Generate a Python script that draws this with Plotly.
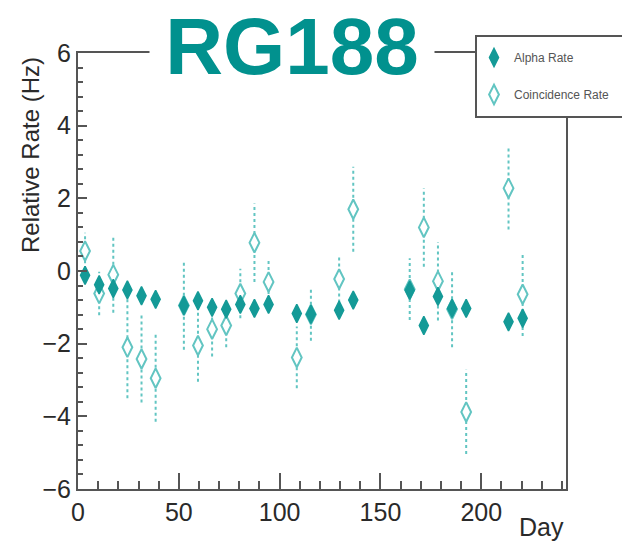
import plotly.graph_objects as go

# ---- data ----
days = [3.5, 10.5, 17.5, 24.5, 31.5, 38.5, 52.5, 59.5, 66.5, 73.5, 80.5, 87.5, 94.5,
        108.5, 115.5, 129.5, 136.5, 164.5, 171.5, 178.5, 185.5, 192.5, 213.5, 220.5]
alpha_rate = [-0.12, -0.38, -0.48, -0.52, -0.68, -0.78, -0.95, -0.82, -1.0, -1.05, -0.92, -1.03, -0.92,
              -1.17, -1.19, -1.08, -0.80, -0.53, -1.50, -0.70, -1.03, -1.03, -1.40, -1.30]
coinc_rate = [0.55, -0.62, -0.10, -2.10, -2.42, -2.95, -0.95, -2.05, -1.60, -1.50, -0.62, 0.78, -0.30,
              -2.38, -1.20, -0.22, 1.70, -0.50, 1.20, -0.28, -1.05, -3.88, 2.28, -0.64]
coinc_err = [0.5, 0.6, 1.05, 1.4, 1.2, 1.2, 1.22, 1.0, 0.75, 0.6, 0.68, 1.08, 0.66,
             0.85, 0.72, 0.65, 1.17, 0.85, 1.08, 1.08, 1.05, 1.16, 1.14, 1.15]

title_text = "RG188"
x_title = "Day"
y_title = "Relative Rate (Hz)"
x_range = [0, 242]
y_range = [-6, 6]

# ---- layout constants ----
W, H = 622, 542
L, R, T, B = 78, 56, 53, 53
pw, ph = W - L - R, H - T - B

TEAL = "#149a97"
TEAL_LIGHT = "#62c5c2"
TITLE_COL = "#01918e"
AXIS_COL = "#555555"
TXT_COL = "#2a2a2a"
FONT = "Liberation Sans, Arial, Helvetica, sans-serif"


def px_x(p):
    return (p - L) / pw


def px_y(p):
    return (H - B - p) / ph


# dotted error bars built from data
ex, ey = [], []
for d, v, e in zip(days, coinc_rate, coinc_err):
    ex += [d, d, None]
    ey += [v - e, v + e, None]

fig = go.Figure()
fig.add_trace(go.Scatter(x=ex, y=ey, mode="lines", showlegend=False, hoverinfo="skip",
                         line=dict(color=TEAL_LIGHT, width=2, dash="dot")))
fig.add_trace(go.Scatter(x=days, y=coinc_rate, mode="markers", name="Coincidence Rate",
                         legendgroup="b", legendrank=2,
                         marker=dict(symbol="diamond-tall", size=14, color="white",
                                     line=dict(color=TEAL_LIGHT, width=2))))
fig.add_trace(go.Scatter(x=days, y=alpha_rate, mode="markers", name="Alpha Rate",
                         legendgroup="a", legendrank=1,
                         marker=dict(symbol="diamond-tall", size=13, color=TEAL,
                                     line=dict(color=TEAL, width=1.5))))

axis_common = dict(showline=True, linecolor=AXIS_COL, linewidth=2, mirror=True,
                   showgrid=False, zeroline=False, ticks="inside", tickcolor=AXIS_COL,
                   tickwidth=1.5, tickfont=dict(family=FONT, size=25, color=TXT_COL))

fig.update_layout(
    width=W, height=H,
    margin=dict(l=L, r=R, t=T, b=B, autoexpand=False),
    paper_bgcolor="white", plot_bgcolor="white",
    xaxis=dict(range=x_range, dtick=50, tick0=0, ticklen=16,
               minor=dict(dtick=10, ticks="inside", ticklen=8, tickcolor=AXIS_COL, tickwidth=1.5),
               **axis_common),
    yaxis=dict(range=y_range, dtick=2, tick0=0, ticklen=9,
               minor=dict(dtick=0.4, ticks="inside", ticklen=5, tickcolor=AXIS_COL, tickwidth=1.5),
               **axis_common),
    legend=dict(x=px_x(474), y=px_y(43), xanchor="left", yanchor="top",
                bgcolor="rgba(0,0,0,0)", borderwidth=0,
                font=dict(family=FONT, size=12, color="#555555"),
                traceorder="grouped", tracegroupgap=18, entrywidth=150),
    showlegend=True,
    shapes=[
        dict(type="rect", xref="paper", yref="paper", layer="above",
             x0=px_x(476), x1=px_x(640), y0=px_y(117), y1=px_y(36),
             line=dict(color=AXIS_COL, width=2), fillcolor="white"),
    ],
    annotations=[
        dict(text="<b>%s</b>" % title_text, xref="paper", yref="paper",
             x=px_x(292), y=px_y(46), xanchor="center", yanchor="middle",
             showarrow=False, bgcolor="white", width=282,
             font=dict(family=FONT, size=80, color=TITLE_COL)),
        dict(text=y_title, xref="paper", yref="paper", textangle=-90,
             x=px_x(30), y=px_y(55), xanchor="center", yanchor="top",
             showarrow=False, font=dict(family=FONT, size=24, color=TXT_COL)),
        dict(text=x_title, xref="paper", yref="paper",
             x=1.0, y=px_y(527), xanchor="right", yanchor="middle",
             showarrow=False, font=dict(family=FONT, size=25, color=TXT_COL)),
    ],
)

fig.write_html("out.html")
